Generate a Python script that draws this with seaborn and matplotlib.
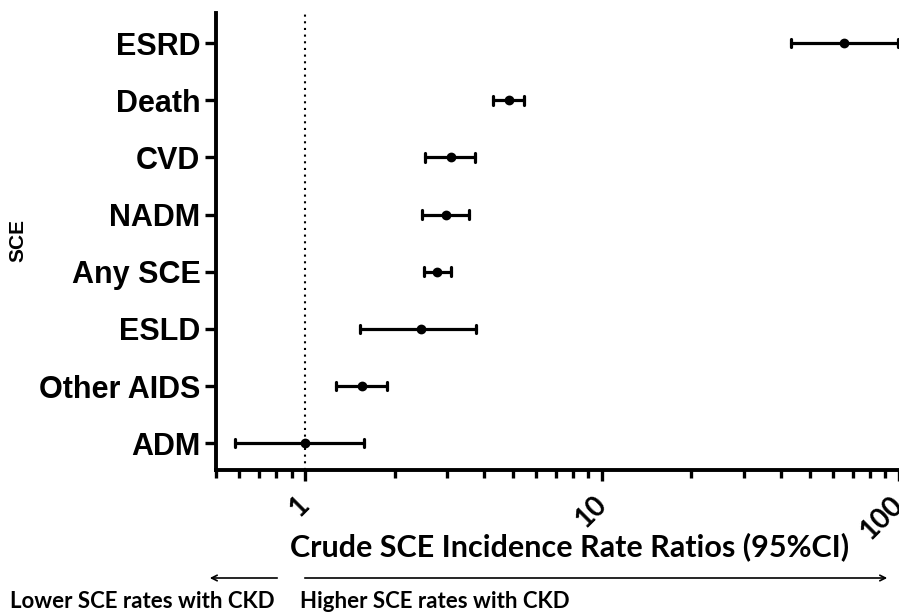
import numpy as np
import pandas as pd
import matplotlib
matplotlib.use("Agg")
import matplotlib.pyplot as plt
import seaborn as sns

# outcomes, top to bottom
sce = ["ESRD", "Death", "CVD", "NADM", "Any SCE", "ESLD", "Other AIDS", "ADM"]
irr = [65.5, 4.85, 3.09, 2.99, 2.79, 2.46, 1.55, 1.00]
ci_low = [43.4, 4.29, 2.53, 2.47, 2.51, 1.53, 1.27, 0.58]
ci_high = [99.0, 5.44, 3.72, 3.57, 3.09, 3.76, 1.88, 1.58]

xticks = [1, 10, 100]
xtick_labels = ["1", "10", "100"]

# long form: median of (low, est, high) = est, full range = CI
df = pd.DataFrame({
    "SCE": np.repeat(sce, 3),
    "IRR": np.ravel(np.column_stack([ci_low, irr, ci_high])),
})

sns.set_style("ticks", {"axes.edgecolor": "black", "text.color": "black",
                        "xtick.color": "black", "ytick.color": "black",
                        "axes.labelcolor": "black"})
plt.rcParams["font.family"] = ["Liberation Sans", "DejaVu Sans"]
calibri_like = ["Lato", "DejaVu Sans"]

fig = plt.figure(figsize=(8.99, 6.12), dpi=100)
ax = fig.add_axes([0.240, 0.232, 0.760, 0.747])

sns.pointplot(data=df, x="IRR", y="SCE", order=sce,
              estimator="median", errorbar=("pi", 100),
              log_scale=True, linestyle="none", color="black",
              marker="o", markersize=5, capsize=0.15,
              err_kws={"linewidth": 2.3}, ax=ax)

ax.axvline(1, color="black", linestyle=(0, (1, 2.2)), linewidth=1.5, zorder=0)

ax.set_xlim(0.5, 100)
ax.set_ylim(7.47, -0.53)
ax.set_xticks(xticks)
ax.set_xticklabels(xtick_labels, rotation=45, ha="right", va="center",
                   rotation_mode="anchor", fontsize=20, fontweight="bold",
                   family=calibri_like)
ax.tick_params(axis="x", which="major", length=8, width=2.4, pad=14)
ax.tick_params(axis="x", which="minor", length=6, width=2.4)
ax.tick_params(axis="y", length=8, width=2.4, pad=3)
for lab in ax.get_yticklabels():
    lab.set_fontsize(22)
    lab.set_fontweight("bold")

sns.despine(ax=ax)
for side in ["left", "bottom"]:
    ax.spines[side].set_linewidth(2.8)

ax.set_xlabel("Crude SCE Incidence Rate Ratios (95%CI)", fontsize=22,
              fontweight="bold", family=calibri_like)
ax.xaxis.set_label_coords(0.518, -0.135)
ax.set_ylabel("SCE", fontsize=15, fontweight="bold")
ax.yaxis.set_label_coords(-0.275, 0.503)

# direction arrows below the axis
y_arr = 1 - 578 / 612
ax.annotate("", xy=(207 / 899, y_arr), xytext=(280 / 899, y_arr),
            xycoords="figure fraction",
            arrowprops=dict(arrowstyle="->", color="black", lw=1.2))
ax.annotate("", xy=(890 / 899, y_arr), xytext=(302 / 899, y_arr),
            xycoords="figure fraction",
            arrowprops=dict(arrowstyle="->", color="black", lw=1.2))
fig.text(10 / 899, 1 - 601 / 612, "Lower SCE rates with CKD", fontsize=16,
         fontweight="bold", va="center", ha="left", family=calibri_like)
fig.text(300 / 899, 1 - 601 / 612, "Higher SCE rates with CKD", fontsize=16,
         fontweight="bold", va="center", ha="left", family=calibri_like)

fig.savefig("out.png", dpi=100)
